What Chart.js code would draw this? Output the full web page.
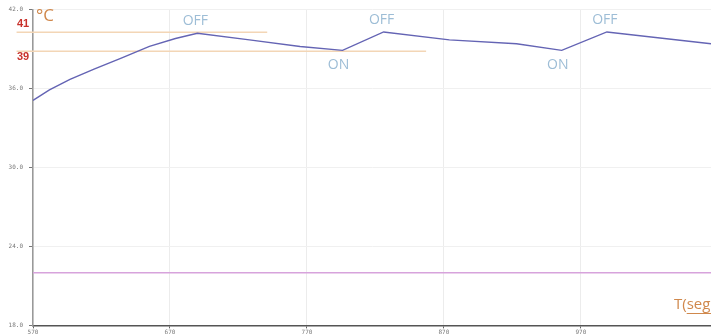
<!DOCTYPE html>
<html>
<head>
<meta charset="utf-8">
<script src="https://cdn.jsdelivr.net/npm/chart.js@4/dist/chart.umd.min.js"></script>
<style>
  html, body { margin: 0; padding: 0; background: #ffffff; }
  #wrap { position: relative; width: 711px; height: 335px; }
</style>
</head>
<body>
<div id="wrap"><canvas id="chart"></canvas></div>
<script>
// Water temperature over time, heater cycling between two setpoints
const timeSec = [570, 582, 597, 615, 634, 655, 674, 690, 728, 765, 796, 826, 874, 923, 956, 989, 1065];
const tempC   = [35.1, 35.9, 36.7, 37.5, 38.3, 39.2, 39.8, 40.2, 39.7, 39.2, 38.9, 40.3, 39.7, 39.4, 38.9, 40.3, 39.4];

// Ambient reference level
const ambientC = 22;

// Thermostat setpoints (upper = heater OFF, lower = heater ON)
const setpoints = [41, 39];
const setpointStart = [558, 558];
const setpointEnd = [741, 857];

// Axis ticks
const xTicks = [570, 670, 770, 870, 970];
const yTicks = [18, 24, 30, 36, 42];

// Where the heater switches
const offIndex = [7, 11, 15];
const onIndex = [10, 14];

const tinyFont = { family: 'DejaVu Sans Mono', size: 6 };

const switchLabels = {
  id: 'switchLabels',
  afterDatasetsDraw(chart) {
    const { ctx } = chart;
    const xs = chart.scales.x, ys = chart.scales.y, yt = chart.scales.yT;
    ctx.save();
    ctx.textAlign = 'center';
    ctx.textBaseline = 'middle';
    ctx.fillStyle = '#9dbdd6';
    ctx.font = '14px "Open Sans"';
    offIndex.forEach(i => {
      ctx.fillText('OFF', xs.getPixelForValue(timeSec[i]) - 2, ys.getPixelForValue(tempC[i]) - 12);
    });
    onIndex.forEach(i => {
      ctx.fillText('ON', xs.getPixelForValue(timeSec[i]) - 4, ys.getPixelForValue(tempC[i]) + 15);
    });

    // setpoint values
    ctx.fillStyle = '#c8312b';
    ctx.font = 'bold 11px "Liberation Sans"';
    ctx.fillText(String(setpoints[0]), 23, yt.getPixelForValue(setpoints[0]) - 8);
    ctx.fillText(String(setpoints[1]), 23, yt.getPixelForValue(setpoints[1]) + 6);

    // unit labels
    ctx.fillStyle = '#d0884c';
    ctx.textAlign = 'left';
    ctx.font = '17px "Open Sans"';
    ctx.fillText('°C', 36, 16);
    ctx.font = '15px "Open Sans"';
    const tx = 674, ty = 305;
    ctx.fillText('T(seg)', tx, ty);
    const wT = ctx.measureText('T(').width;
    const wAll = ctx.measureText('T(seg)').width;
    ctx.strokeStyle = '#d0884c';
    ctx.lineWidth = 1;
    ctx.beginPath();
    ctx.moveTo(tx + wT, ty + 8.5);
    ctx.lineTo(tx + wAll, ty + 8.5);
    ctx.stroke();
    ctx.restore();
  }
};

new Chart(document.getElementById('chart'), {
  type: 'line',
  data: {
    datasets: [
      {
        label: 'Temperatura',
        data: timeSec.map((t, i) => ({ x: t, y: tempC[i] })),
        borderColor: '#6464b4',
        borderWidth: 1.4,
        pointRadius: 0,
        tension: 0,
        yAxisID: 'y'
      },
      {
        label: 'Ambiente',
        data: [{ x: timeSec[0], y: ambientC }, { x: timeSec[timeSec.length - 1], y: ambientC }],
        borderColor: '#d7a3dc',
        borderWidth: 1.4,
        pointRadius: 0,
        yAxisID: 'y'
      },
      ...setpoints.map((v, k) => ({
        label: 'Setpoint ' + v,
        data: [{ x: setpointStart[k], y: v }, { x: setpointEnd[k], y: v }],
        borderColor: '#f3d6b6',
        borderWidth: 1.4,
        pointRadius: 0,
        clip: false,
        yAxisID: 'yT'
      }))
    ]
  },
  options: {
    responsive: true,
    maintainAspectRatio: false,
    animation: false,
    layout: { padding: { top: 5, right: 0, bottom: 0, left: 0 } },
    plugins: { legend: { display: false }, tooltip: { enabled: false } },
    scales: {
      x: {
        type: 'linear',
        min: 570,
        max: 1065,
        afterBuildTicks: s => { s.ticks = xTicks.map(v => ({ value: v })); },
        afterFit: s => { s.height = 9; },
        grid: { color: '#ececec', lineWidth: 1, tickLength: 3, tickColor: '#666', drawTicks: true },
        border: { color: '#555', width: 1.5 },
        ticks: { font: tinyFont, color: '#777', padding: 0, maxRotation: 0, autoSkip: false }
      },
      y: {
        min: 18,
        max: 42,
        afterBuildTicks: s => { s.ticks = yTicks.map(v => ({ value: v })); },
        afterFit: s => { s.width = 33; },
        grid: { color: '#f0f0f0', lineWidth: 1, tickLength: 4, tickColor: '#777' },
        border: { color: '#999', width: 1.5 },
        ticks: { font: tinyFont, color: '#777', padding: 6, callback: v => Number(v).toFixed(1) }
      },
      yT: {
        display: false,
        min: 10,
        max: 43.4
      }
    }
  },
  plugins: [switchLabels]
});
</script>
</body>
</html>
